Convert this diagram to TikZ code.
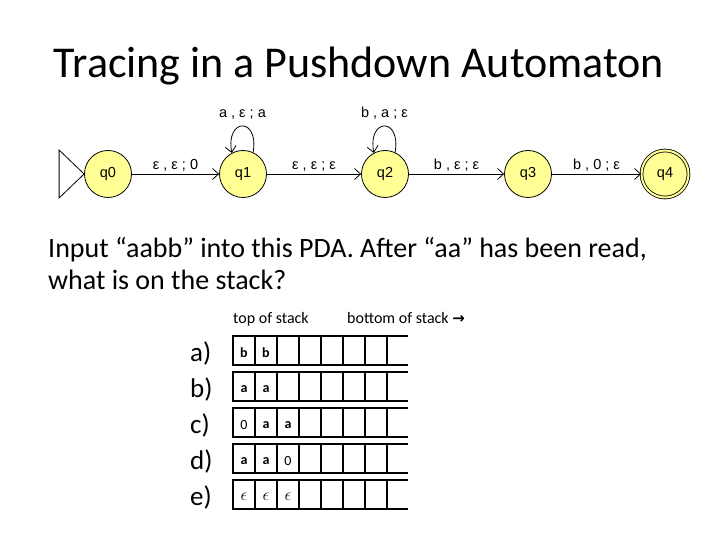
\documentclass[tikz,border=0pt]{standalone}
\usepackage{fontspec}
\setmainfont{Carlito}
\newfontfamily\autofont{Liberation Sans}
\newfontfamily\symbolfont{DejaVu Sans}
\usetikzlibrary{arrows.meta}
\definecolor{stateyellow}{RGB}{255,255,150}
\newcommand\thinzero{{\mdseries 0}}
\newcommand\stackeps{{\fontsize{19}{19}\selectfont$\epsilon$}}

\tikzset{
	state/.style={circle, draw, line width=0.8pt, fill=stateyellow, minimum size=47pt, inner sep=0pt, font=\autofont\fontsize{14.5}{14.5}\selectfont},
	trans/.style={line width=0.8pt, -{Straight Barb[length=6pt,width=11pt]}},
	translabel/.style={font=\autofont\fontsize{14.5}{14.5}\selectfont, inner sep=2pt},
	stackline/.style={line width=1.7pt},
	rowlabel/.style={font=\fontsize{27}{27}\selectfont, inner sep=0pt},
	cell/.style={font=\bfseries\fontsize{14}{14}\selectfont, inner sep=0pt}
}

\begin{document}
\begin{tikzpicture}[x=1pt, y=1pt]
	\useasboundingbox (0,0) rectangle (720,540);

	% Title and question
	\node[font=\fontsize{44}{44}\selectfont, anchor=base] (title) at (359,462) {Tracing in a Pushdown Automaton};
	\node[font=\fontsize{28}{28}\selectfont, anchor=base west, inner sep=0pt] (question1) at (48,282) {Input “aabb” into this PDA. After “aa” has been read,};
	\node[font=\fontsize{28}{28}\selectfont, anchor=base west, inner sep=0pt] (question2) at (48,250) {what is on the stack?};

	% Automaton
	\node[state] (q0) at (108,366) {q0};
	\node[state] (q1) at (243,366) {q1};
	\node[state] (q2) at (385,366) {q2};
	\node[state] (q3) at (528,366) {q3};
	\node[state, double=stateyellow, double distance=2pt] (q4) at (665,366) {q4};
	\draw[line width=0.8pt] (q0.west) -- ++(-25,24) -- ++(0,-48) -- cycle;

	\draw[trans] (q0) -- node[translabel, above] {ε , ε ; 0} (q1);
	\draw[trans] (q1) -- node[translabel, above] {ε , ε ; ε} (q2);
	\draw[trans] (q2) -- node[translabel, above] {b , ε ; ε} (q3);
	\draw[trans] (q3) -- node[translabel, above] {b , 0 ; ε} (q4);
	\draw[trans] (q1.65) .. controls +(80:36pt) and +(100:36pt) .. node[translabel, above, yshift=4pt] {a , ε ; a} (q1.118);
	\draw[trans] (q2.65) .. controls +(80:36pt) and +(100:36pt) .. node[translabel, above, yshift=4pt] {b , a ; ε} (q2.118);

	% Stack
	\node[font=\fontsize{16}{16}\selectfont, anchor=base west, inner sep=0pt] (top) at (233,216) {top of stack};
	\node[font=\fontsize{16}{16}\selectfont, anchor=base west, inner sep=0pt] (bottom) at (347,216) {bottom of stack {\symbolfont\bfseries\fontsize{15}{15}\selectfont →}};
	\foreach \row/\ytop/\cells in {a/336/{b,b}, b/372/{a,a}, c/408/{\thinzero,a,a}, d/444/{a,a,\thinzero}, e/480/{\stackeps,\stackeps,\stackeps}} {
		\pgfmathsetmacro\yt{540-\ytop}
		\pgfmathsetmacro\yb{\yt-29}
		\draw[stackline] (408,\yt) -- (233,\yt) -- (233,\yb) -- (408,\yb);
		\foreach \xdiv in {255,277,...,387}
			\draw[stackline] (\xdiv,\yt) -- (\xdiv,\yb);
		\node[rowlabel, anchor=base west] (label-\row) at (190,\yb+3) {\row)};
		\foreach \c [count=\i] in \cells
			\node[cell] (\row-\i) at (222+22*\i,\yt-17) {\c};
	}
\end{tikzpicture}
\end{document}
